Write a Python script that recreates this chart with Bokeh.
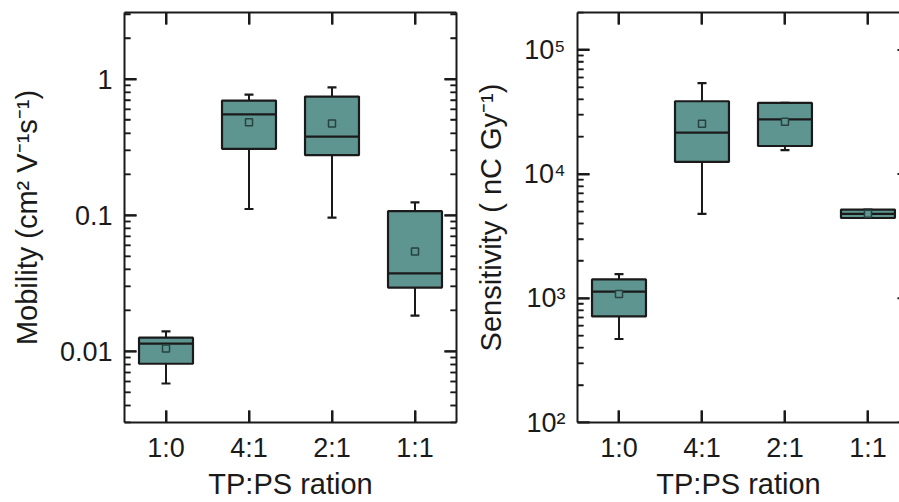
import math

from bokeh.plotting import figure
from bokeh.models import (Range1d, FixedTicker, LinearAxis, LogAxis,
                          CustomJSTickFormatter, ColumnDataSource)
from bokeh.layouts import row
from bokeh.embed import file_html
from bokeh.resources import INLINE

# TP:PS blend ratios
categories = ["1:0", "4:1", "2:1", "1:1"]

# Mobility (cm^2 V^-1 s^-1) box statistics
mob_low = [0.0058, 0.111, 0.096, 0.0183]
mob_q1 = [0.0081, 0.307, 0.276, 0.0294]
mob_median = [0.0114, 0.550, 0.377, 0.0373]
mob_q3 = [0.0126, 0.695, 0.743, 0.107]
mob_high = [0.0140, 0.769, 0.869, 0.124]
mob_mean = [0.0105, 0.482, 0.471, 0.054]

# Sensitivity (nC Gy^-1) box statistics
sen_low = [470, 4790, 15600, 4430]
sen_q1 = [714, 12540, 16840, 4430]
sen_median = [1131, 21560, 27540, 4790]
sen_q3 = [1419, 38600, 37440, 5180]
sen_high = [1566, 54100, 37440, 5180]
sen_mean = [1082, 25450, 26380, 4790]

# axis tick labels
mob_ticks = [0.01, 0.1, 1]
mob_tick_labels = ["0.01", "0.1", "1"]
sen_ticks = [100, 1000, 10000, 100000]
sen_tick_labels = ["10²", "10³", "10⁴", "10⁵"]

FONT = "Liberation Sans"
TEAL = "#5f9591"
INK = "#1a1a1a"
MEAN_EDGE = "#27423f"
BOX_W = 0.65
HEIGHT = 502
BORDER_TOP = 12
BORDER_BOTTOM = 77
MAJOR_LEN = 12   # inward tick lengths, px
MINOR_LEN = 6

xs = list(range(1, len(categories) + 1))


def minor_log_ticks(lo_exp, hi_exp):
    return [k * 10.0 ** e for e in range(lo_exp, hi_exp + 1) for k in range(2, 10)]


def style_axis(ax, labels=True):
    ax.axis_line_color = INK
    ax.axis_line_width = 2
    ax.major_tick_line_color = INK
    ax.major_tick_line_width = 2
    ax.major_tick_in = MAJOR_LEN
    ax.major_tick_out = 0
    ax.minor_tick_line_color = INK
    ax.minor_tick_line_width = 1.5
    ax.minor_tick_in = MINOR_LEN
    ax.minor_tick_out = 0
    ax.major_label_text_font = FONT
    ax.major_label_text_font_size = "27px"
    ax.major_label_text_color = INK
    ax.axis_label_text_font = FONT
    ax.axis_label_text_font_size = "29px"
    ax.axis_label_text_font_style = "normal"
    ax.axis_label_text_color = INK
    if not labels:
        ax.formatter = CustomJSTickFormatter(code="return ''")
        ax.major_label_standoff = 0


def inward_ticks(p, frame_w, frame_h, x_lo, x_hi, x_right, y_lo, y_hi,
                 y_ticks, minors):
    # frame ticks as short segments, pixel lengths converted to data units
    px_per_x = frame_w / (x_hi - x_lo)
    px_per_dec = frame_h / math.log10(y_hi / y_lo)
    y_major = [t for t in y_ticks if y_lo <= t <= y_hi]
    y_minor = [t for t in minors if y_lo <= t <= y_hi]
    for edge, sign in ((x_lo, 1), (x_right, -1)):
        for vals, ln, lw in ((y_major, MAJOR_LEN, 2), (y_minor, MINOR_LEN, 1.5)):
            d = sign * ln / px_per_x
            p.segment(x0=[edge] * len(vals), x1=[edge + d] * len(vals),
                      y0=vals, y1=vals, line_color=INK, line_width=lw)
    f = 10 ** (MAJOR_LEN / px_per_dec)
    p.segment(x0=xs, x1=xs, y0=[y_lo] * len(xs), y1=[y_lo * f] * len(xs),
              line_color=INK, line_width=2)
    p.segment(x0=xs, x1=xs, y0=[y_hi] * len(xs), y1=[y_hi / f] * len(xs),
              line_color=INK, line_width=2)


def make_panel(width, y_lo, y_hi, x_end, y_ticks, y_labels, minors, y_title,
               low, q1, med, q3, high, mean, border_left, border_right,
               mirror_right):
    p = figure(width=width, height=HEIGHT, output_backend="svg",
               toolbar_location=None, y_axis_type="log",
               x_range=Range1d(0.5, x_end), y_range=Range1d(y_lo, y_hi),
               min_border_left=border_left, min_border_right=border_right,
               min_border_top=BORDER_TOP, min_border_bottom=BORDER_BOTTOM)
    p.outline_line_color = None
    p.grid.visible = False
    p.background_fill_color = "white"
    p.border_fill_color = "white"

    # main axes first (before mirrored axes are added)
    xax = p.below[0]
    xax.ticker = FixedTicker(ticks=xs)
    xax.major_label_overrides = {x: c for x, c in zip(xs, categories)}
    style_axis(xax)
    xax.axis_label = "TP:PS ration"
    xax.major_label_standoff = 10
    xax.axis_label_standoff = 2

    yax = p.left[0]
    yax.ticker = FixedTicker(ticks=y_ticks, minor_ticks=minors)
    yax.major_label_overrides = {t: s for t, s in zip(y_ticks, y_labels)}
    style_axis(yax)
    yax.axis_label = y_title
    yax.major_label_standoff = 12
    yax.axis_label_standoff = 14

    top = LinearAxis(ticker=FixedTicker(ticks=xs))
    style_axis(top, labels=False)
    p.add_layout(top, "above")

    if mirror_right:
        right = LogAxis(ticker=FixedTicker(ticks=y_ticks, minor_ticks=minors))
        style_axis(right, labels=False)
        p.add_layout(right, "right")

    src = ColumnDataSource(dict(
        x=xs, low=low, q1=q1, med=med, q3=q3, high=high, mean=mean,
        x0=[x - BOX_W / 2 for x in xs], x1=[x + BOX_W / 2 for x in xs],
    ))
    # whisker stems and caps
    p.segment(x0="x", x1="x", y0="low", y1="high", source=src,
              line_color=INK, line_width=2)
    p.scatter(x="x", y="low", marker="dash", size=9, source=src,
              line_color=INK, line_width=2.2)
    p.scatter(x="x", y="high", marker="dash", size=9, source=src,
              line_color=INK, line_width=2.2)
    # interquartile boxes
    p.vbar(x="x", width=BOX_W, bottom="q1", top="q3", source=src,
           fill_color=TEAL, line_color=INK, line_width=2.2)
    # medians
    p.segment(x0="x0", x1="x1", y0="med", y1="med", source=src,
              line_color=INK, line_width=2.2)
    # means
    p.scatter(x="x", y="mean", marker="square", size=7, source=src,
              fill_color=TEAL, line_color=MEAN_EDGE, line_width=1.5)

    # frame ticks on all four sides (right side sits at x = 4.5)
    frame_w = width - border_left - border_right
    frame_h = HEIGHT - BORDER_TOP - BORDER_BOTTOM
    inward_ticks(p, frame_w, frame_h, 0.5, x_end, 4.5, y_lo, y_hi,
                 y_ticks, minors)
    return p


left = make_panel(470, 0.003, 3.08, 4.5, mob_ticks, mob_tick_labels,
                  minor_log_ticks(-3, 0), "Mobility (cm² V⁻¹s⁻¹)",
                  mob_low, mob_q1, mob_median, mob_q3, mob_high, mob_mean,
                  border_left=124, border_right=14, mirror_right=True)

right = make_panel(429, 100, 2.0e5, 4.38, sen_ticks, sen_tick_labels,
                   minor_log_ticks(2, 5), "Sensitivity ( nC Gy⁻¹)",
                   sen_low, sen_q1, sen_median, sen_q3, sen_high, sen_mean,
                   border_left=107, border_right=0, mirror_right=False)

layout = row(left, right, spacing=0)
open("out.html", "w").write(file_html(layout, INLINE))
